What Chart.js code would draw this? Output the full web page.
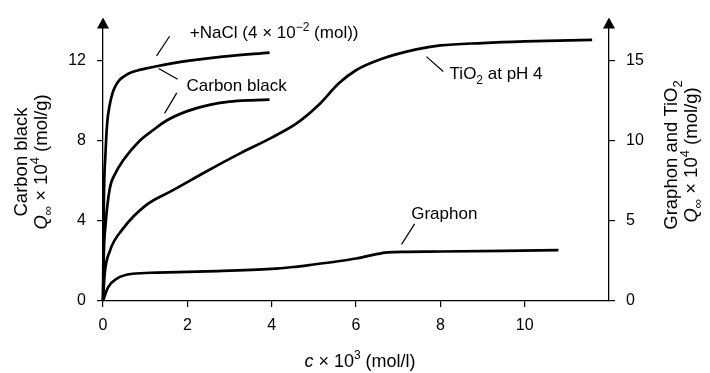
<!DOCTYPE html>
<html>
<head>
<meta charset="utf-8">
<script src="https://cdn.jsdelivr.net/npm/chart.js@4/dist/chart.umd.min.js"></script>
<style>
html, body { margin: 0; padding: 0; background: #fff; }
</style>
</head>
<body>
<canvas id="grafico" width="710" height="373"></canvas>
<script>
const FONT = '"Liberation Sans", Arial, Helvetica, sans-serif';

// c x 10^3 (mol/l) against Q x 10^4 (mol/g)
const naclX = [0, 0.02, 0.06, 0.1, 0.16, 0.23, 0.3, 0.4, 0.5, 0.6, 0.8, 1.0, 1.27, 1.6, 2.05, 2.84, 3.95];
const naclY = [0, 4.9, 7.4, 8.9, 9.8, 10.4, 10.75, 11.05, 11.22, 11.35, 11.5, 11.6, 11.72, 11.85, 12.0, 12.2, 12.4];

const carbonX = [0, 0.02, 0.06, 0.16, 0.3, 0.47, 0.87, 1.2, 1.5, 2.0, 2.5, 3.0, 3.5, 3.95];
const carbonY = [0, 2.4, 3.8, 5.6, 6.4, 7.0, 8.0, 8.55, 9.0, 9.48, 9.78, 9.95, 10.02, 10.05];

const tioX = [0, 0.04, 0.16, 0.47, 1.03, 1.65, 2.46, 3.24, 4.0, 4.6, 5.1, 5.6, 6.0, 6.6, 7.43, 8.0, 9.0, 10.0, 11.6];
const tioY = [0, 1.7, 3.1, 4.5, 6.0, 6.9, 8.1, 9.2, 10.2, 11.1, 12.2, 13.6, 14.4, 15.1, 15.7, 15.95, 16.1, 16.2, 16.3];

const graphonX = [0, 0.12, 0.33, 0.7, 1.27, 2.46, 4.0, 4.5, 5.0, 5.5, 6.0, 6.4, 6.75, 7.2, 8.0, 9.5, 10.8];
const graphonY = [0, 0.85, 1.4, 1.7, 1.77, 1.85, 2.0, 2.12, 2.28, 2.45, 2.65, 2.88, 3.04, 3.07, 3.09, 3.13, 3.17];

const xTicks = [0, 2, 4, 6, 8, 10];
const leftTicks = [0, 4, 8, 12];
const rightTicks = [0, 5, 10, 15];

// labels on the plot, positioned in x / left-axis units
const notes = [
    { x: 2.06, y: 13.41, runs: [{ t: '+NaCl (4 × 10' }, { t: '−2', sup: true }, { t: ' (mol))' }] },
    { x: 1.98, y: 10.78, runs: [{ t: 'Carbon black' }] },
    { x: 8.22, y: 11.37, runs: [{ t: 'TiO' }, { t: '2', sub: true }, { t: ' at pH 4' }] },
    { x: 7.31, y: 4.39, runs: [{ t: 'Graphon' }] }
];
const leaders = [
    [1.58, 13.22, 1.27, 12.24],
    [1.32, 11.61, 1.77, 11.07],
    [1.75, 10.39, 1.46, 9.37],
    [7.67, 12.2, 8.07, 11.46],
    [7.39, 3.85, 7.08, 2.83]
];

function punti(xs, ys) {
    return xs.map((x, i) => ({ x: x, y: ys[i] }));
}

function fontFor(r, size) {
    const s = (r.sup || r.sub) ? Math.round(size * 0.68) : size;
    return (r.italic ? 'italic ' : '') + s + 'px ' + FONT;
}

// draws a line of text made of runs (superscripts, subscripts, italics)
function scriviRuns(ctx, runs, x, y, size, align) {
    let w = 0;
    runs.forEach(r => { ctx.font = fontFor(r, size); w += ctx.measureText(r.t).width; });
    let cx = align === 'center' ? x - w / 2 : x;
    ctx.textAlign = 'left';
    ctx.textBaseline = 'alphabetic';
    runs.forEach(r => {
        ctx.font = fontFor(r, size);
        const dy = r.sup ? -size * 0.42 : (r.sub ? size * 0.28 : 0);
        ctx.fillText(r.t, cx, y + dy);
        cx += ctx.measureText(r.t).width;
    });
}

const qRuns = [
    { t: 'Q', italic: true }, { t: '∞', sub: true }, { t: ' × 10' }, { t: '4', sup: true }, { t: ' (mol/g)' }
];

const decorazioni = {
    id: 'decorazioni',
    afterDraw(chart) {
        const ctx = chart.ctx;
        const area = chart.chartArea;
        const sx = chart.scales.x, sy = chart.scales.yL;
        ctx.save();
        ctx.fillStyle = '#000';
        ctx.strokeStyle = '#000';

        // arrow heads on both vertical axes
        [area.left, area.right].forEach(ax => {
            ctx.beginPath();
            ctx.moveTo(ax, area.top - 3);
            ctx.lineTo(ax - 6, area.top + 8);
            ctx.lineTo(ax + 6, area.top + 8);
            ctx.closePath();
            ctx.fill();
        });

        // leader lines
        ctx.lineWidth = 1.2;
        leaders.forEach(l => {
            ctx.beginPath();
            ctx.moveTo(sx.getPixelForValue(l[0]), sy.getPixelForValue(l[1]));
            ctx.lineTo(sx.getPixelForValue(l[2]), sy.getPixelForValue(l[3]));
            ctx.stroke();
        });

        // curve labels
        notes.forEach(n => {
            scriviRuns(ctx, n.runs, sx.getPixelForValue(n.x), sy.getPixelForValue(n.y) + 6, 17, 'left');
        });

        // x axis title
        scriviRuns(ctx, [{ t: 'c', italic: true }, { t: ' × 10' }, { t: '3', sup: true }, { t: ' (mol/l)' }],
            (area.left + area.right) / 2 + 4, 367, 18, 'center');

        // left axis title
        ctx.save();
        ctx.translate(0, 162);
        ctx.rotate(-Math.PI / 2);
        scriviRuns(ctx, [{ t: 'Carbon black' }], 0, 27, 18.5, 'center');
        scriviRuns(ctx, qRuns, 0, 47, 18.5, 'center');
        ctx.restore();

        // right axis title
        ctx.save();
        ctx.translate(0, 155);
        ctx.rotate(-Math.PI / 2);
        scriviRuns(ctx, [{ t: 'Graphon and TiO' }, { t: '2', sub: true }], 0, 677, 18.5, 'center');
        scriviRuns(ctx, qRuns, 0, 697, 18.5, 'center');
        ctx.restore();

        ctx.restore();
    }
};

function assey(posizione, max, passo, tacche, larghezza) {
    return {
        type: 'linear',
        position: posizione,
        min: 0,
        max: max,
        afterBuildTicks: s => { s.ticks = tacche.map(v => ({ value: v })); },
        afterFit: s => { s.width = larghezza; },
        ticks: { stepSize: passo, color: '#000', padding: 11, font: { family: FONT, size: 16 } },
        grid: { drawOnChartArea: false, drawTicks: true, tickLength: 6, color: '#000', lineWidth: 1.2 },
        border: { display: true, color: '#000', width: 1.3 }
    };
}

const stileLinea = {
    borderColor: '#000',
    borderWidth: 2.7,
    pointRadius: 0,
    cubicInterpolationMode: 'monotone',
    fill: false,
    clip: false
};

new Chart(document.getElementById('grafico').getContext('2d'), {
    type: 'line',
    data: {
        datasets: [
            Object.assign({ label: '+NaCl', data: punti(naclX, naclY), yAxisID: 'yL' }, stileLinea),
            Object.assign({ label: 'Carbon black', data: punti(carbonX, carbonY), yAxisID: 'yL' }, stileLinea),
            Object.assign({ label: 'TiO2 at pH 4', data: punti(tioX, tioY), yAxisID: 'yR' }, stileLinea),
            Object.assign({ label: 'Graphon', data: punti(graphonX, graphonY), yAxisID: 'yR' }, stileLinea)
        ]
    },
    options: {
        responsive: false,
        animation: false,
        devicePixelRatio: 1,
        layout: { padding: { top: 14, left: 0, right: 0, bottom: 0 } },
        plugins: { legend: { display: false }, tooltip: { enabled: false } },
        scales: {
            x: {
                type: 'linear',
                min: 0,
                max: 12,
                afterBuildTicks: s => { s.ticks = xTicks.map(v => ({ value: v })); },
                afterFit: s => { s.height = 72; },
                ticks: { color: '#000', padding: 9, font: { family: FONT, size: 16 } },
                grid: { drawOnChartArea: false, drawTicks: true, tickLength: 6, color: '#000', lineWidth: 1.2 },
                border: { display: true, color: '#000', width: 1.3 }
            },
            yL: assey('left', 14, 4, leftTicks, 103),
            yR: assey('right', 17.5, 5, rightTicks, 101)
        }
    },
    plugins: [decorazioni]
});
</script>
</body>
</html>
